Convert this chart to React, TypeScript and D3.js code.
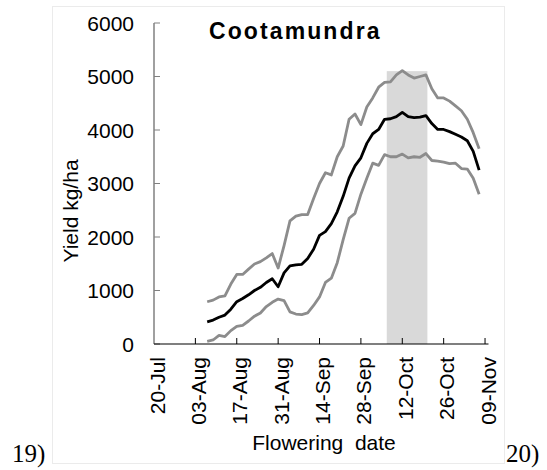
import React from "react";
import * as d3 from "d3";

const dates = [
  "2017-08-07","2017-08-09","2017-08-11","2017-08-13","2017-08-15","2017-08-17","2017-08-19","2017-08-21","2017-08-23","2017-08-25","2017-08-27","2017-08-29","2017-08-31",
  "2017-09-02","2017-09-04","2017-09-06","2017-09-08","2017-09-10","2017-09-12","2017-09-14","2017-09-16","2017-09-18","2017-09-20","2017-09-22","2017-09-24","2017-09-26","2017-09-28","2017-09-30",
  "2017-10-02","2017-10-04","2017-10-06","2017-10-08","2017-10-10","2017-10-12","2017-10-14","2017-10-16","2017-10-18","2017-10-20","2017-10-22","2017-10-24","2017-10-26","2017-10-28","2017-10-30",
  "2017-11-01","2017-11-03","2017-11-05","2017-11-07",
];

const medianYield = [
  415, 447, 500, 540, 650, 790, 850, 920, 1000, 1060, 1150, 1220, 1070,
  1330, 1460, 1480, 1490, 1600, 1770, 2030, 2100, 2250, 2470, 2760, 3100, 3330, 3480, 3750,
  3930, 4010, 4200, 4210, 4250, 4330, 4250, 4230, 4240, 4270, 4120, 4010, 4010, 3970, 3920,
  3870, 3800, 3600, 3250,
];

const upperYield = [
  790, 820, 880, 900, 1120, 1300, 1300, 1400, 1495, 1540, 1610, 1690, 1420,
  1840, 2300, 2390, 2420, 2420, 2720, 3000, 3200, 3160, 3500, 3700, 4200, 4300, 4100, 4430,
  4600, 4800, 4890, 4900, 5030, 5110, 5030, 4970, 5000, 5030, 4770, 4600, 4600, 4540, 4450,
  4360, 4200, 3950, 3650,
];

const lowerYield = [
  50, 75, 160, 140, 250, 330, 350, 430, 520, 580, 700, 780, 840,
  810, 600, 560, 550, 580, 720, 880, 1150, 1230, 1520, 1950, 2350, 2440, 2800, 3100,
  3380, 3340, 3540, 3500, 3500, 3550, 3480, 3500, 3490, 3560, 3430, 3420, 3400, 3370, 3380,
  3280, 3270, 3100, 2800,
];

const tickDates = ["2017-07-20","2017-08-03","2017-08-17","2017-08-31","2017-09-14","2017-09-28","2017-10-12","2017-10-26","2017-11-09"];
const yTicks = [0, 1000, 2000, 3000, 4000, 5000, 6000];
const bandStart = "2017-10-06T18:00";
const bandEnd = "2017-10-20T12:00";
const bandTop = 5100;

const parse = (s: string) => new Date(s.length > 10 ? s : s + "T00:00");

export default function App() {
  const x = d3.scaleTime().domain([parse("2017-07-20"), parse("2017-11-10")]).range([154, 488]);
  const y = d3.scaleLinear().domain([0, 6000]).range([344, 23]);
  const fmt = d3.timeFormat("%d-%b");
  const line = d3
    .line<number>()
    .x((_, i) => x(parse(dates[i])))
    .y((v) => y(v));
  const font = "'Liberation Sans', Arial, sans-serif";

  return (
    <svg
      width={547}
      height={470}
      style={{ position: "absolute", left: 0, top: 0, background: "#fff" }}
      fontFamily={font}
    >
      <rect x={52.5} y={6.5} width={452} height={457} fill="#fff" stroke="#ebebeb" strokeWidth={1} />
      <rect
        x={x(parse(bandStart))}
        y={y(bandTop)}
        width={x(parse(bandEnd)) - x(parse(bandStart))}
        height={y(0) - y(bandTop)}
        fill="#d9d9d9"
      />
      {/* y axis */}
      <line x1={154} x2={154} y1={y(6000)} y2={y(0)} stroke="#808080" strokeWidth={1.5} />
      {yTicks.map((t) => (
        <g key={t}>
          <line x1={154} x2={160} y1={y(t)} y2={y(t)} stroke="#808080" strokeWidth={1} />
          <text x={134} y={y(t)} dy="0.36em" textAnchor="end" fontSize={21} fill="#000">
            {t}
          </text>
        </g>
      ))}
      {/* x axis */}
      <line x1={154} x2={488.5} y1={y(0)} y2={y(0)} stroke="#000" strokeWidth={1.2} />
      {tickDates.map((t) => {
        const tx = x(parse(t));
        return (
          <g key={t}>
            {t !== "2017-07-20" && (
              <line x1={tx} x2={tx} y1={y(0)} y2={y(0) - 6} stroke="#000" strokeWidth={1} />
            )}
            <text
              transform={`translate(${tx + 10.5},357) rotate(-90)`}
              textAnchor="end"
              fontSize={21}
              fill="#000"
            >
              {fmt(parse(t))}
            </text>
          </g>
        );
      })}
      <path d={line(upperYield) || ""} fill="none" stroke="#8c8c8c" strokeWidth={2.8} strokeLinejoin="round" />
      <path d={line(lowerYield) || ""} fill="none" stroke="#8c8c8c" strokeWidth={2.8} strokeLinejoin="round" />
      <path d={line(medianYield) || ""} fill="none" stroke="#000" strokeWidth={2.8} strokeLinejoin="round" />
      <text x={209} y={39} fontSize={23} fontWeight="bold" letterSpacing={2.1} fill="#000">
        Cootamundra
      </text>
      <text transform="translate(78,211) rotate(-90)" textAnchor="middle" fontSize={21} fill="#000">
        Yield kg/ha
      </text>
      <text x={324} y={450} textAnchor="middle" fontSize={21} fill="#000" style={{ whiteSpace: "pre" }}>
        {"Flowering  date"}
      </text>
      <text x={12} y={462} fontSize={25} fontFamily="'Liberation Serif', 'Times New Roman', serif" fill="#000">
        19)
      </text>
      <text x={506} y={462} fontSize={25} fontFamily="'Liberation Serif', 'Times New Roman', serif" fill="#000">
        20)
      </text>
    </svg>
  );
}
